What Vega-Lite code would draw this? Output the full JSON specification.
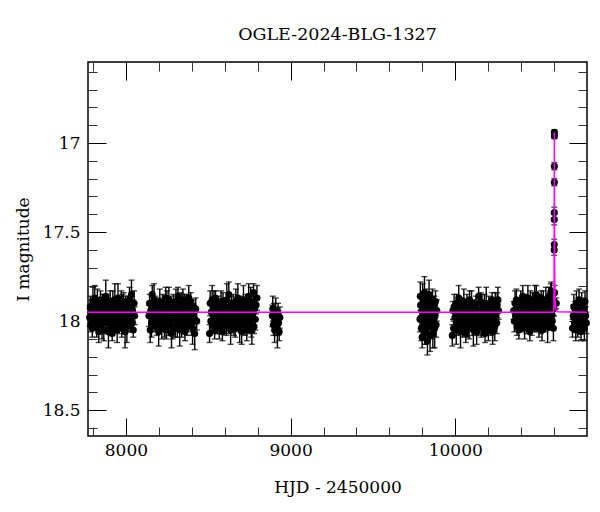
{
"$schema": "https://vega.github.io/schema/vega-lite/v6.json",
"width": 499, "height": 374,
"autosize": {"type": "none"},
"padding": {"left": 88, "top": 62, "right": 13, "bottom": 76},
"background": "white",
"title": {"text": "OGLE-2024-BLG-1327", "font": "DejaVu Serif", "fontSize": 17.5, "fontWeight": "normal", "color": "black", "anchor": "middle", "offset": 18},
"config": {"view": {"stroke": "black", "strokeWidth": 1.5}, "axis": {"grid": false}},
"datasets": {
"obs": [
{"t":7780,"m":17.98,"e":0.05},{"t":7784,"m":17.92,"e":0.06},{"t":7788,"m":18.02,"e":0.04},{"t":7791,"m":17.95,"e":0.07},{"t":7796,"m":18.04,"e":0.05},{"t":7800,"m":17.89,"e":0.08},{"t":7804,"m":17.96,"e":0.05},{"t":7807,"m":17.99,"e":0.06},{"t":7811,"m":17.87,"e":0.07},{"t":7816,"m":18.01,"e":0.04},{"t":7819,"m":17.94,"e":0.05},{"t":7823,"m":18.03,"e":0.06},{"t":7827,"m":17.91,"e":0.09},{"t":7830,"m":17.97,"e":0.05},{"t":7835,"m":18.06,"e":0.06},{"t":7839,"m":17.93,"e":0.04},{"t":7843,"m":18.00,"e":0.07},{"t":7846,"m":17.88,"e":0.05},{"t":7850,"m":17.95,"e":0.06},{"t":7855,"m":18.02,"e":0.08},{"t":7858,"m":17.90,"e":0.05},{"t":7862,"m":17.98,"e":0.04},{"t":7866,"m":18.05,"e":0.06},{"t":7869,"m":17.92,"e":0.07},{"t":7874,"m":17.96,"e":0.05},{"t":7878,"m":17.86,"e":0.09},{"t":7882,"m":18.01,"e":0.06},{"t":7885,"m":17.99,"e":0.05},{"t":7889,"m":17.89,"e":0.04},{"t":7894,"m":18.06,"e":0.09},{"t":7897,"m":17.94,"e":0.06},{"t":7901,"m":17.97,"e":0.05},{"t":7905,"m":17.91,"e":0.08},{"t":7908,"m":18.03,"e":0.05},{"t":7913,"m":17.93,"e":0.06},{"t":7917,"m":18.07,"e":0.04},{"t":7921,"m":17.90,"e":0.07},{"t":7924,"m":18.00,"e":0.06},{"t":7928,"m":17.95,"e":0.05},{"t":7933,"m":17.88,"e":0.09},{"t":7936,"m":18.02,"e":0.04},{"t":7940,"m":17.96,"e":0.06},{"t":7944,"m":17.92,"e":0.05},{"t":7947,"m":18.05,"e":0.07},{"t":7952,"m":17.87,"e":0.08},{"t":7956,"m":17.98,"e":0.05},{"t":7960,"m":18.01,"e":0.06},{"t":7963,"m":17.94,"e":0.04},{"t":7967,"m":17.99,"e":0.06},{"t":7972,"m":17.90,"e":0.07},{"t":7975,"m":18.04,"e":0.05},{"t":7979,"m":17.93,"e":0.08},{"t":7983,"m":17.97,"e":0.06},{"t":7986,"m":17.89,"e":0.05},{"t":7991,"m":18.00,"e":0.04},{"t":7995,"m":18.06,"e":0.09},{"t":7999,"m":17.91,"e":0.05},{"t":8002,"m":17.96,"e":0.06},{"t":8006,"m":18.03,"e":0.09},{"t":8011,"m":17.95,"e":0.05},{"t":8014,"m":17.92,"e":0.06},{"t":8018,"m":18.02,"e":0.04},{"t":8022,"m":17.88,"e":0.07},{"t":8025,"m":17.99,"e":0.05},{"t":8030,"m":17.98,"e":0.06},{"t":8034,"m":17.85,"e":0.08},{"t":8038,"m":18.01,"e":0.05},{"t":8041,"m":17.94,"e":0.06},{"t":8045,"m":18.05,"e":0.04},{"t":8050,"m":17.90,"e":0.07},{"t":8053,"m":17.97,"e":0.05},
{"t":8140,"m":17.97,"e":0.06},{"t":8144,"m":17.90,"e":0.05},{"t":8148,"m":18.05,"e":0.07},{"t":8151,"m":17.94,"e":0.04},{"t":8156,"m":18.01,"e":0.08},{"t":8160,"m":17.85,"e":0.05},{"t":8164,"m":17.98,"e":0.06},{"t":8167,"m":17.99,"e":0.05},{"t":8171,"m":17.88,"e":0.09},{"t":8176,"m":18.02,"e":0.04},{"t":8179,"m":17.92,"e":0.06},{"t":8183,"m":17.95,"e":0.07},{"t":8187,"m":18.03,"e":0.05},{"t":8190,"m":17.96,"e":0.06},{"t":8195,"m":17.91,"e":0.04},{"t":8199,"m":18.06,"e":0.08},{"t":8203,"m":18.00,"e":0.05},{"t":8206,"m":17.89,"e":0.07},{"t":8210,"m":17.97,"e":0.06},{"t":8215,"m":17.93,"e":0.05},{"t":8218,"m":18.04,"e":0.06},{"t":8222,"m":17.90,"e":0.05},{"t":8226,"m":17.99,"e":0.07},{"t":8229,"m":17.94,"e":0.04},{"t":8234,"m":18.01,"e":0.08},{"t":8238,"m":17.98,"e":0.05},{"t":8242,"m":17.87,"e":0.06},{"t":8245,"m":18.05,"e":0.05},{"t":8249,"m":17.92,"e":0.09},{"t":8254,"m":17.96,"e":0.04},{"t":8257,"m":18.02,"e":0.06},{"t":8261,"m":17.88,"e":0.07},{"t":8265,"m":17.95,"e":0.05},{"t":8268,"m":18.00,"e":0.06},{"t":8273,"m":17.90,"e":0.04},{"t":8277,"m":18.07,"e":0.08},{"t":8281,"m":17.93,"e":0.05},{"t":8284,"m":18.03,"e":0.07},{"t":8288,"m":17.91,"e":0.06},{"t":8293,"m":17.97,"e":0.05},{"t":8296,"m":17.94,"e":0.06},{"t":8300,"m":18.04,"e":0.05},{"t":8304,"m":17.89,"e":0.07},{"t":8307,"m":17.99,"e":0.04},{"t":8312,"m":18.01,"e":0.08},{"t":8316,"m":17.86,"e":0.05},{"t":8320,"m":17.96,"e":0.06},{"t":8323,"m":17.92,"e":0.05},{"t":8327,"m":18.05,"e":0.09},{"t":8332,"m":17.98,"e":0.04},{"t":8335,"m":17.90,"e":0.06},{"t":8339,"m":18.02,"e":0.07},{"t":8343,"m":17.95,"e":0.05},{"t":8346,"m":17.88,"e":0.06},{"t":8351,"m":18.00,"e":0.04},{"t":8355,"m":17.93,"e":0.08},{"t":8359,"m":18.06,"e":0.05},{"t":8362,"m":17.97,"e":0.07},{"t":8366,"m":17.91,"e":0.06},{"t":8371,"m":18.03,"e":0.05},{"t":8374,"m":17.94,"e":0.06},{"t":8378,"m":18.01,"e":0.05},{"t":8382,"m":17.87,"e":0.07},{"t":8385,"m":17.99,"e":0.04},{"t":8390,"m":17.96,"e":0.08},{"t":8394,"m":17.89,"e":0.05},{"t":8398,"m":18.02,"e":0.06},{"t":8401,"m":17.95,"e":0.05},{"t":8405,"m":18.04,"e":0.09},{"t":8410,"m":17.92,"e":0.04},{"t":8413,"m":17.98,"e":0.06},{"t":8418,"m":18.07,"e":0.09},{"t":8424,"m":17.93,"e":0.06},{"t":8430,"m":18.00,"e":0.05},
{"t":8508,"m":18.07,"e":0.05},{"t":8512,"m":17.90,"e":0.07},{"t":8516,"m":18.00,"e":0.06},{"t":8519,"m":17.95,"e":0.04},{"t":8524,"m":17.88,"e":0.08},{"t":8528,"m":18.02,"e":0.05},{"t":8532,"m":17.96,"e":0.06},{"t":8535,"m":17.92,"e":0.09},{"t":8539,"m":18.05,"e":0.05},{"t":8544,"m":17.87,"e":0.04},{"t":8547,"m":17.98,"e":0.07},{"t":8551,"m":18.01,"e":0.06},{"t":8555,"m":17.94,"e":0.05},{"t":8558,"m":17.99,"e":0.08},{"t":8563,"m":17.90,"e":0.04},{"t":8567,"m":18.04,"e":0.06},{"t":8571,"m":17.93,"e":0.05},{"t":8574,"m":17.97,"e":0.07},{"t":8578,"m":17.89,"e":0.06},{"t":8583,"m":18.00,"e":0.05},{"t":8586,"m":18.06,"e":0.05},{"t":8590,"m":17.91,"e":0.07},{"t":8594,"m":17.96,"e":0.06},{"t":8597,"m":18.03,"e":0.04},{"t":8602,"m":17.95,"e":0.08},{"t":8606,"m":17.92,"e":0.05},{"t":8610,"m":18.02,"e":0.06},{"t":8613,"m":17.88,"e":0.09},{"t":8617,"m":17.99,"e":0.05},{"t":8622,"m":17.98,"e":0.04},{"t":8625,"m":17.85,"e":0.07},{"t":8629,"m":18.01,"e":0.06},{"t":8633,"m":17.94,"e":0.05},{"t":8636,"m":18.05,"e":0.08},{"t":8641,"m":17.90,"e":0.04},{"t":8645,"m":17.97,"e":0.06},{"t":8649,"m":17.98,"e":0.05},{"t":8652,"m":17.92,"e":0.07},{"t":8656,"m":18.02,"e":0.06},{"t":8661,"m":17.95,"e":0.05},{"t":8664,"m":18.04,"e":0.05},{"t":8668,"m":17.89,"e":0.07},{"t":8672,"m":17.96,"e":0.06},{"t":8675,"m":17.99,"e":0.04},{"t":8680,"m":17.87,"e":0.08},{"t":8684,"m":18.01,"e":0.05},{"t":8688,"m":17.94,"e":0.06},{"t":8691,"m":18.03,"e":0.09},{"t":8695,"m":17.91,"e":0.05},{"t":8700,"m":17.97,"e":0.04},{"t":8703,"m":18.06,"e":0.07},{"t":8707,"m":17.93,"e":0.06},{"t":8711,"m":18.00,"e":0.05},{"t":8714,"m":17.88,"e":0.08},{"t":8719,"m":17.95,"e":0.04},{"t":8723,"m":18.02,"e":0.06},{"t":8727,"m":17.90,"e":0.05},{"t":8730,"m":17.98,"e":0.07},{"t":8734,"m":18.05,"e":0.06},{"t":8739,"m":17.92,"e":0.05},{"t":8742,"m":17.96,"e":0.05},{"t":8746,"m":17.86,"e":0.07},{"t":8750,"m":18.01,"e":0.06},{"t":8753,"m":17.99,"e":0.04},{"t":8758,"m":17.89,"e":0.08},{"t":8762,"m":18.04,"e":0.05},{"t":8765,"m":18.05,"e":0.08},{"t":8766,"m":17.94,"e":0.06},{"t":8769,"m":17.97,"e":0.09},{"t":8773,"m":17.91,"e":0.05},{"t":8775,"m":17.84,"e":0.05},{"t":8778,"m":18.03,"e":0.04},{"t":8781,"m":17.93,"e":0.07},{"t":8786,"m":17.99,"e":0.06},{"t":8791,"m":17.91,"e":0.05},{"t":8796,"m":17.87,"e":0.07},
{"t":8889,"m":17.97,"e":0.06},{"t":8892,"m":17.93,"e":0.07},{"t":8896,"m":18.02,"e":0.06},{"t":8899,"m":17.95,"e":0.05},{"t":8903,"m":18.05,"e":0.07},{"t":8906,"m":17.99,"e":0.06},{"t":8910,"m":17.94,"e":0.07},{"t":8913,"m":18.03,"e":0.05},{"t":8917,"m":18.00,"e":0.06},{"t":8920,"m":18.05,"e":0.10},{"t":8924,"m":17.96,"e":0.06},{"t":8927,"m":18.01,"e":0.07},{"t":8931,"m":18.06,"e":0.05},{"t":8935,"m":17.98,"e":0.06},
{"t":9786,"m":17.99,"e":0.07},{"t":9788,"m":17.86,"e":0.08},{"t":9790,"m":17.91,"e":0.06},{"t":9794,"m":18.04,"e":0.07},{"t":9797,"m":17.94,"e":0.09},{"t":9799,"m":18.09,"e":0.06},{"t":9802,"m":17.87,"e":0.08},{"t":9806,"m":17.97,"e":0.07},{"t":9810,"m":18.01,"e":0.06},{"t":9813,"m":17.84,"e":0.09},{"t":9815,"m":18.06,"e":0.07},{"t":9817,"m":17.93,"e":0.06},{"t":9822,"m":18.05,"e":0.08},{"t":9825,"m":17.89,"e":0.07},{"t":9829,"m":17.98,"e":0.06},{"t":9831,"m":18.11,"e":0.08},{"t":9833,"m":17.92,"e":0.07},{"t":9836,"m":18.02,"e":0.06},{"t":9841,"m":17.85,"e":0.08},{"t":9845,"m":17.96,"e":0.07},{"t":9847,"m":18.08,"e":0.09},{"t":9849,"m":17.90,"e":0.06},{"t":9852,"m":18.03,"e":0.07},{"t":9856,"m":17.95,"e":0.08},{"t":9861,"m":17.88,"e":0.06},{"t":9864,"m":18.07,"e":0.08},{"t":9866,"m":17.93,"e":0.07},{"t":9868,"m":18.00,"e":0.06},{"t":9872,"m":17.91,"e":0.05},{"t":9875,"m":18.04,"e":0.11},{"t":9878,"m":17.97,"e":0.06},{"t":9880,"m":17.89,"e":0.06},{"t":9884,"m":18.02,"e":0.07},{"t":9888,"m":17.94,"e":0.06},
{"t":9982,"m":18.08,"e":0.06},{"t":9986,"m":17.94,"e":0.05},{"t":9990,"m":18.04,"e":0.04},{"t":9993,"m":17.92,"e":0.07},{"t":9998,"m":17.98,"e":0.05},{"t":10002,"m":17.95,"e":0.06},{"t":10006,"m":18.05,"e":0.08},{"t":10009,"m":17.90,"e":0.05},{"t":10013,"m":18.00,"e":0.04},{"t":10018,"m":18.02,"e":0.06},{"t":10021,"m":17.87,"e":0.07},{"t":10025,"m":17.97,"e":0.05},{"t":10029,"m":17.93,"e":0.06},{"t":10032,"m":18.06,"e":0.09},{"t":10037,"m":17.99,"e":0.05},{"t":10041,"m":17.91,"e":0.04},{"t":10045,"m":18.03,"e":0.06},{"t":10048,"m":17.96,"e":0.05},{"t":10052,"m":17.89,"e":0.07},{"t":10057,"m":18.01,"e":0.06},{"t":10060,"m":17.94,"e":0.06},{"t":10064,"m":18.07,"e":0.05},{"t":10068,"m":17.98,"e":0.04},{"t":10071,"m":17.92,"e":0.07},{"t":10076,"m":18.04,"e":0.05},{"t":10080,"m":17.95,"e":0.06},{"t":10084,"m":18.02,"e":0.08},{"t":10087,"m":17.88,"e":0.05},{"t":10091,"m":18.00,"e":0.04},{"t":10096,"m":17.97,"e":0.06},{"t":10099,"m":17.90,"e":0.07},{"t":10103,"m":18.03,"e":0.05},{"t":10107,"m":17.96,"e":0.06},{"t":10110,"m":18.05,"e":0.09},{"t":10115,"m":17.93,"e":0.05},{"t":10119,"m":17.99,"e":0.04},{"t":10123,"m":17.98,"e":0.06},{"t":10126,"m":17.91,"e":0.05},{"t":10130,"m":18.06,"e":0.07},{"t":10135,"m":17.95,"e":0.06},{"t":10138,"m":18.02,"e":0.06},{"t":10142,"m":17.86,"e":0.05},{"t":10146,"m":17.99,"e":0.04},{"t":10149,"m":18.00,"e":0.07},{"t":10154,"m":17.89,"e":0.05},{"t":10158,"m":18.03,"e":0.06},{"t":10162,"m":17.93,"e":0.08},{"t":10165,"m":17.96,"e":0.05},{"t":10169,"m":18.04,"e":0.04},{"t":10174,"m":17.97,"e":0.06},{"t":10177,"m":17.92,"e":0.07},{"t":10181,"m":18.07,"e":0.05},{"t":10185,"m":18.01,"e":0.06},{"t":10188,"m":17.90,"e":0.09},{"t":10193,"m":17.98,"e":0.05},{"t":10197,"m":17.94,"e":0.04},{"t":10201,"m":18.05,"e":0.06},{"t":10204,"m":17.91,"e":0.05},{"t":10208,"m":18.00,"e":0.07},{"t":10213,"m":17.95,"e":0.06},{"t":10216,"m":18.02,"e":0.06},{"t":10220,"m":17.99,"e":0.05},{"t":10224,"m":17.88,"e":0.04},{"t":10227,"m":18.06,"e":0.07},{"t":10232,"m":17.93,"e":0.05},{"t":10236,"m":17.97,"e":0.06},{"t":10240,"m":18.03,"e":0.08},{"t":10243,"m":17.89,"e":0.05},{"t":10247,"m":17.96,"e":0.04},{"t":10252,"m":18.01,"e":0.06},{"t":10255,"m":17.91,"e":0.07},{"t":10259,"m":17.88,"e":0.07},{"t":10263,"m":17.94,"e":0.05},
{"t":10355,"m":17.94,"e":0.05},{"t":10359,"m":18.00,"e":0.06},{"t":10363,"m":17.90,"e":0.07},{"t":10366,"m":17.97,"e":0.04},{"t":10371,"m":17.88,"e":0.06},{"t":10375,"m":18.03,"e":0.05},{"t":10379,"m":17.96,"e":0.08},{"t":10382,"m":17.93,"e":0.06},{"t":10386,"m":18.05,"e":0.05},{"t":10391,"m":17.91,"e":0.04},{"t":10394,"m":17.98,"e":0.07},{"t":10398,"m":17.89,"e":0.06},{"t":10402,"m":18.01,"e":0.05},{"t":10405,"m":17.95,"e":0.09},{"t":10410,"m":17.86,"e":0.06},{"t":10414,"m":17.99,"e":0.05},{"t":10418,"m":17.92,"e":0.04},{"t":10421,"m":18.04,"e":0.06},{"t":10425,"m":17.97,"e":0.07},{"t":10430,"m":17.90,"e":0.05},{"t":10433,"m":18.02,"e":0.05},{"t":10437,"m":17.94,"e":0.06},{"t":10441,"m":17.87,"e":0.07},{"t":10444,"m":18.00,"e":0.04},{"t":10449,"m":17.96,"e":0.06},{"t":10453,"m":18.06,"e":0.05},{"t":10457,"m":17.91,"e":0.08},{"t":10460,"m":17.93,"e":0.06},{"t":10464,"m":18.03,"e":0.05},{"t":10469,"m":17.88,"e":0.04},{"t":10472,"m":17.98,"e":0.07},{"t":10476,"m":17.95,"e":0.06},{"t":10480,"m":18.01,"e":0.05},{"t":10483,"m":17.89,"e":0.09},{"t":10488,"m":17.99,"e":0.06},{"t":10492,"m":17.85,"e":0.05},{"t":10496,"m":18.02,"e":0.04},{"t":10499,"m":17.92,"e":0.06},{"t":10503,"m":17.97,"e":0.07},{"t":10508,"m":18.04,"e":0.05},{"t":10511,"m":17.90,"e":0.05},{"t":10515,"m":17.96,"e":0.06},{"t":10519,"m":18.00,"e":0.07},{"t":10522,"m":17.87,"e":0.04},{"t":10527,"m":18.05,"e":0.06},{"t":10531,"m":17.94,"e":0.05},{"t":10535,"m":17.91,"e":0.08},{"t":10538,"m":17.98,"e":0.06},{"t":10542,"m":17.93,"e":0.05},{"t":10547,"m":18.02,"e":0.04},{"t":10550,"m":17.88,"e":0.07},{"t":10554,"m":17.99,"e":0.06},{"t":10558,"m":17.95,"e":0.05},{"t":10561,"m":18.03,"e":0.09},{"t":10566,"m":17.92,"e":0.06},{"t":10570,"m":17.86,"e":0.05},{"t":10574,"m":18.01,"e":0.04},{"t":10577,"m":17.96,"e":0.06},{"t":10580,"m":17.84,"e":0.05},{"t":10581,"m":17.89,"e":0.07},{"t":10583,"m":17.83,"e":0.05},{"t":10586,"m":17.97,"e":0.05},{"t":10589,"m":18.00,"e":0.05},{"t":10593,"m":17.90,"e":0.06},{"t":10596,"m":18.04,"e":0.07},
{"t":10599.0,"m":17.93,"e":0.04},{"t":10601.0,"m":17.60,"e":0.03},{"t":10601.1,"m":17.57,"e":0.03},{"t":10601.3,"m":17.43,"e":0.03},{"t":10601.4,"m":17.39,"e":0.03},{"t":10601.6,"m":17.22,"e":0.02},{"t":10601.7,"m":17.13,"e":0.02},{"t":10602.0,"m":16.96,"e":0.015},{"t":10602.05,"m":16.94,"e":0.015},{"t":10603.0,"m":17.84,"e":0.04},{"t":10613.0,"m":17.90,"e":0.03},
{"t":10712,"m":18.04,"e":0.05},{"t":10716,"m":17.97,"e":0.06},{"t":10720,"m":17.92,"e":0.07},{"t":10724,"m":18.01,"e":0.05},{"t":10728,"m":17.95,"e":0.06},{"t":10732,"m":18.05,"e":0.06},{"t":10736,"m":17.90,"e":0.07},{"t":10740,"m":17.99,"e":0.05},{"t":10744,"m":18.03,"e":0.06},{"t":10748,"m":17.94,"e":0.07},{"t":10752,"m":17.88,"e":0.06},{"t":10756,"m":18.02,"e":0.05},{"t":10760,"m":17.96,"e":0.06},{"t":10764,"m":18.06,"e":0.05},{"t":10768,"m":17.91,"e":0.07},{"t":10772,"m":17.98,"e":0.06},{"t":10776,"m":18.00,"e":0.05},{"t":10780,"m":17.93,"e":0.06},{"t":10784,"m":18.04,"e":0.07},{"t":10788,"m":17.89,"e":0.06},{"t":10792,"m":17.97,"e":0.05},{"t":10796,"m":18.01,"e":0.06}
],
"model": [
{"t":7770,"m":17.95},{"t":10595,"m":17.95},{"t":10599,"m":17.94},{"t":10600.5,"m":17.8},{"t":10601,"m":17.55},{"t":10601.5,"m":17.2},{"t":10602,"m":16.94},{"t":10602.5,"m":17.2},{"t":10603,"m":17.5},{"t":10604,"m":17.75},{"t":10606,"m":17.88},{"t":10610,"m":17.93},{"t":10620,"m":17.948},{"t":10800,"m":17.95}
]
},
"resolve": {"axis": {"x": "independent", "y": "independent"}},
"layer": [
{
"data": {"name": "obs"},
"mark": {"type": "errorbar", "color": "black", "thickness": 1.4, "ticks": {"size": 6, "color": "black"}},
"encoding": {
"x": {"field": "t", "type": "quantitative", "scale": {"domain": [7770, 10800], "nice": false, "zero": false}, "axis": null},
"y": {"field": "m", "type": "quantitative", "scale": {"domain": [16.545, 18.645], "reverse": true, "nice": false, "zero": false}, "axis": null},
"yError": {"field": "e"}
}
},
{
"data": {"name": "obs"},
"mark": {"type": "point", "filled": true, "color": "black", "size": 50, "opacity": 1},
"encoding": {
"x": {"field": "t", "type": "quantitative", "scale": {"domain": [7770, 10800], "nice": false, "zero": false},
 "axis": {"orient": "bottom", "values": [8000, 9000, 10000], "format": "d", "ticks": false, "domain": false, "labelFont": "DejaVu Serif", "labelFontSize": 17, "labelColor": "black", "labelPadding": 6, "labelFlush": false, "title": "HJD - 2450000", "titleFont": "DejaVu Serif", "titleFontSize": 17, "titleFontWeight": "normal", "titleColor": "black", "titlePadding": 21}},
"y": {"field": "m", "type": "quantitative", "scale": {"domain": [16.545, 18.645], "reverse": true, "nice": false, "zero": false},
 "axis": {"orient": "left", "values": [17, 17.5, 18, 18.5], "format": "~g", "ticks": false, "domain": false, "labelFont": "DejaVu Serif", "labelFontSize": 17, "labelColor": "black", "labelPadding": 8, "labelFlush": false, "title": "I magnitude", "titleFont": "DejaVu Serif", "titleFontSize": 17, "titleFontWeight": "normal", "titleColor": "black", "titlePadding": 10}}
}
},
{
"data": {"name": "model"},
"mark": {"type": "line", "color": "#ff00ff", "strokeWidth": 1.5},
"encoding": {
"x": {"field": "t", "type": "quantitative", "scale": {"domain": [7770, 10800], "nice": false, "zero": false},
 "axis": {"orient": "bottom", "values": [8000, 9000, 10000], "labels": false, "domain": false, "ticks": true, "tickSize": -18, "tickColor": "black", "tickWidth": 1, "title": null}},
"y": {"field": "m", "type": "quantitative", "scale": {"domain": [16.545, 18.645], "reverse": true, "nice": false, "zero": false},
 "axis": {"orient": "left", "values": [17, 17.5, 18, 18.5], "labels": false, "domain": false, "ticks": true, "tickSize": -18, "tickColor": "black", "tickWidth": 1, "title": null}}
}
},
{
"data": {"name": "model"},
"mark": {"type": "point", "opacity": 0},
"encoding": {
"x": {"field": "t", "type": "quantitative", "scale": {"domain": [7770, 10800], "nice": false, "zero": false},
 "axis": {"orient": "bottom", "values": [7800, 8200, 8400, 8600, 8800, 9200, 9400, 9600, 9800, 10200, 10400, 10600], "labels": false, "domain": false, "ticks": true, "tickSize": -9, "tickColor": "#333333", "tickWidth": 1, "title": null}},
"y": {"field": "m", "type": "quantitative", "scale": {"domain": [16.545, 18.645], "reverse": true, "nice": false, "zero": false},
 "axis": {"orient": "left", "values": [16.6, 16.7, 16.8, 16.9, 17.1, 17.2, 17.3, 17.4, 17.6, 17.7, 17.8, 17.9, 18.1, 18.2, 18.3, 18.4, 18.6], "labels": false, "domain": false, "ticks": true, "tickSize": -9, "tickColor": "#333333", "tickWidth": 1, "title": null}}
}
},
{
"data": {"name": "model"},
"mark": {"type": "point", "opacity": 0},
"encoding": {
"x": {"field": "t", "type": "quantitative", "scale": {"domain": [7770, 10800], "nice": false, "zero": false},
 "axis": {"orient": "top", "values": [8000, 9000, 10000], "labels": false, "domain": false, "ticks": true, "tickSize": -18, "tickColor": "black", "tickWidth": 1, "title": null}},
"y": {"field": "m", "type": "quantitative", "scale": {"domain": [16.545, 18.645], "reverse": true, "nice": false, "zero": false},
 "axis": {"orient": "right", "values": [17, 17.5, 18, 18.5], "labels": false, "domain": false, "ticks": true, "tickSize": -18, "tickColor": "black", "tickWidth": 1, "title": null}}
}
},
{
"data": {"name": "model"},
"mark": {"type": "point", "opacity": 0},
"encoding": {
"x": {"field": "t", "type": "quantitative", "scale": {"domain": [7770, 10800], "nice": false, "zero": false},
 "axis": {"orient": "top", "values": [7800, 8200, 8400, 8600, 8800, 9200, 9400, 9600, 9800, 10200, 10400, 10600], "labels": false, "domain": false, "ticks": true, "tickSize": -9, "tickColor": "#333333", "tickWidth": 1, "title": null}},
"y": {"field": "m", "type": "quantitative", "scale": {"domain": [16.545, 18.645], "reverse": true, "nice": false, "zero": false},
 "axis": {"orient": "right", "values": [16.6, 16.7, 16.8, 16.9, 17.1, 17.2, 17.3, 17.4, 17.6, 17.7, 17.8, 17.9, 18.1, 18.2, 18.3, 18.4, 18.6], "labels": false, "domain": false, "ticks": true, "tickSize": -9, "tickColor": "#333333", "tickWidth": 1, "title": null}}
}
}
]
}
